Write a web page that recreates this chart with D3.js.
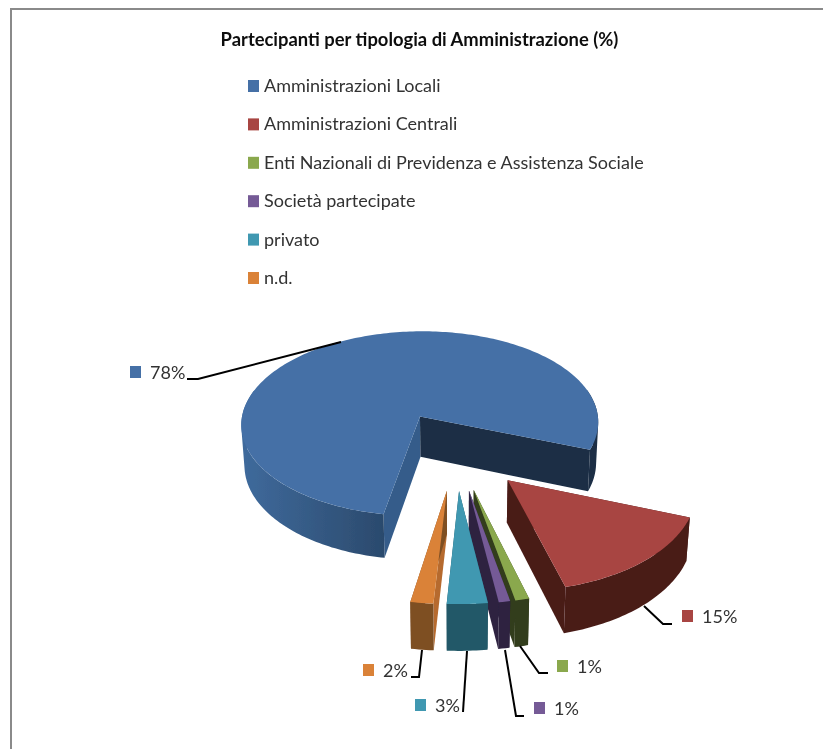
<!DOCTYPE html>
<html>
<head>
<meta charset="utf-8">
<script src="https://cdnjs.cloudflare.com/ajax/libs/d3/7.8.5/d3.min.js"></script>
<style>
  html, body { margin: 0; padding: 0; background: #fff; }
  svg { display: block; font-family: Lato, "Open Sans", sans-serif; }
</style>
</head>
<body>
<div id="chart"></div>
<script>
// data, slice sizes a bit finer than the printed labels
const title = 'Partecipanti per tipologia di Amministrazione (%)';
const categories = ['Amministrazioni Locali', 'Amministrazioni Centrali', 'Enti Nazionali di Previdenza e Assistenza Sociale', 'Società partecipate', 'privato', 'n.d.'];
const values = [78, 15, 1.1, 0.9, 3.2, 1.8];

// shades of each slice
const topColors = ['#4570a6', '#a84543', '#8aa84e', '#745a96', '#3f98b1', '#da8239'];
const rimColors = ['url(#blueRim)', '#4a1c18', '#3e4a24', '#33274a', '#245867', '#7e4f24'];
const startFaceColors = ['#345c8a', '#4a1c18', '#3e4a24', '#2e2340', '#245867', '#b66b2e'];
const endFaceColors = ['#1a2d45', '#4a1c18', '#323c1c', '#2e2340', '#245867', '#7e4f24'];

// label boxes and leader lines, one row per slice
const labelX = [130, 682, 557, 534, 415, 363];
const labelY = [379, 623, 673, 715, 712, 677];
const leaders = [
  [[187, 379], [198, 379], [341, 342]],
  [[672, 624], [663, 624], [644, 606]],
  [[548, 673], [539, 673], [520, 646]],
  [[524, 716], [516, 716], [505, 650]],
  [[463, 712], [467, 651]],
  [[411, 677], [419, 677], [422, 650]]
];

const width = 823, height = 749;

// projection of the pie plane, with a little perspective
const cx = 456, cy = 450, ax = 183, ay = 97, persp = 0.08, depth = 41.5, taper = 0.015;
const explode = 0.41;
const wallOverlap = 0.3; // wall runs a bit past the sides so the silhouette stays closed

function project(u, v, z) {
  const w = 1 / (1 - persp * v);
  return [cx + ax * u * w * (1 - taper * z), cy + ay * v * w + depth * z * w];
}

const pie = d3.pie().sort(null).startAngle(190 * Math.PI / 180).endAngle((190 + 360) * Math.PI / 180);
const slices = pie(values);
const line = d3.line();

const svg = d3.select('#chart').append('svg').attr('width', width).attr('height', height);

const defs = svg.append('defs');
const grad = defs.append('linearGradient').attr('id', 'blueRim').attr('gradientUnits', 'userSpaceOnUse')
  .attr('x1', 242).attr('x2', 384).attr('y1', 0).attr('y2', 0);
grad.append('stop').attr('offset', 0).attr('stop-color', '#3f6a9c');
grad.append('stop').attr('offset', 1).attr('stop-color', '#2b4a6d');

const soft = defs.append('filter').attr('id', 'soft');
soft.append('feGaussianBlur').attr('stdDeviation', 0.45);

const root = svg.append('g').attr('filter', 'url(#soft)');

// frame, open on the right and the bottom
root.append('path').attr('d', line([[11, height], [11, 9], [width, 9]]))
  .attr('fill', 'none').attr('stroke', '#8a8a8a').attr('stroke-width', 2);

root.append('text').attr('x', 419.5).attr('y', 46).attr('text-anchor', 'middle')
  .attr('font-size', 18.4).attr('font-weight', 700).attr('fill', '#111').text(title);

// legend
const legendY = d3.scalePoint().domain(categories).range([86, 278]);
const legend = root.selectAll('.legend').data(categories).enter().append('g').attr('class', 'legend')
  .attr('transform', d => `translate(248, ${legendY(d)})`);
legend.append('rect').attr('y', -6).attr('width', 11).attr('height', 12).attr('fill', (d, i) => topColors[i]);
legend.append('text').attr('x', 16).attr('y', 6).attr('font-size', 18).attr('fill', '#333').text(d => d);

// slices, back to front
const arcPoints = (s, a0, a1, z) => {
  const mid = (s.startAngle + s.endAngle) / 2;
  const n = Math.max(2, Math.ceil((a1 - a0) / 0.02));
  return d3.range(n + 1).map(k => {
    const a = a0 + (a1 - a0) * k / n;
    return project(explode * Math.sin(mid) + Math.sin(a), -explode * Math.cos(mid) - Math.cos(a), z);
  });
};
const apex = (s, z) => {
  const mid = (s.startAngle + s.endAngle) / 2;
  return project(explode * Math.sin(mid), -explode * Math.cos(mid), z);
};
const corner = (s, a, z) => arcPoints(s, a, a, z)[0];

// wall as small quads, all wound the same way, so the fill is their union
const wallPath = (s, from, to) => {
  const top = arcPoints(s, from, to, 0), bottom = arcPoints(s, from, to, 1);
  return d3.pairs(d3.range(top.length)).map(([a, b]) => {
    const quad = [top[a], top[b], bottom[b], bottom[a]];
    if (d3.polygonArea(quad) < 0) quad.reverse();
    return line(quad) + 'Z';
  }).join('');
};

const pieG = root.append('g');
slices.forEach((s, i) => {
  const g = pieG.append('g');
  // the two cut faces
  [[s.startAngle, startFaceColors[i]], [s.endAngle, endFaceColors[i]]].forEach(([a, color]) => {
    g.append('path')
      .attr('d', line([apex(s, 0), corner(s, a, 0), corner(s, a, 1), apex(s, 1)]) + 'Z')
      .attr('fill', color);
  });
  // outer wall, only the part that faces us
  [0, 1].forEach(k => {
    const from = Math.max(s.startAngle, Math.PI / 2 - wallOverlap + 2 * Math.PI * k);
    const to = Math.min(s.endAngle, 3 * Math.PI / 2 + wallOverlap + 2 * Math.PI * k);
    if (to <= from) return;
    g.append('path')
      .attr('d', wallPath(s, from, to))
      .attr('fill', k === 1 ? endFaceColors[i] : rimColors[i]);
  });
  // top
  g.append('path')
    .attr('d', line([apex(s, 0)].concat(arcPoints(s, s.startAngle, s.endAngle, 0))) + 'Z')
    .attr('fill', topColors[i]);
});

// data labels
root.selectAll('.leader').data(leaders).enter().append('path').attr('class', 'leader')
  .attr('d', d => line(d)).attr('fill', 'none').attr('stroke', '#000').attr('stroke-width', 2);
const labels = root.selectAll('.pct').data(values).enter().append('g').attr('class', 'pct')
  .attr('transform', (d, i) => `translate(${labelX[i]}, ${labelY[i]})`);
labels.append('rect').attr('y', -13).attr('width', 11).attr('height', 12).attr('fill', (d, i) => topColors[i]);
labels.append('text').attr('x', 20).attr('font-size', 18).attr('fill', '#333').text(d => Math.round(d) + '%');
</script>
</body>
</html>
